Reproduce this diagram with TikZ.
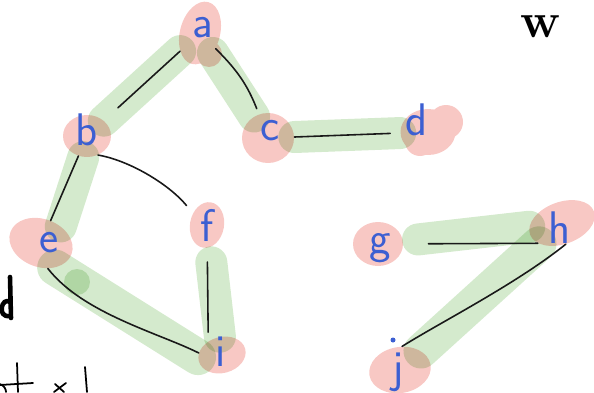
\documentclass[tikz,border=0pt]{standalone}
\usetikzlibrary{shapes.geometric}
\definecolor{blobpink}{HTML}{F8C8C4}
\definecolor{hlgreen}{HTML}{D4EACD}
\definecolor{penblue}{HTML}{3C5FD2}
\begin{document}
\begin{tikzpicture}[x=0.02cm, y=-0.02cm, line cap=round, line join=round,
	blob/.style 2 args={ellipse, fill=blobpink, draw=none, inner sep=0pt, minimum width=#1, minimum height=#2},
	hl/.style={draw=hlgreen, line width=0.64cm},
	pen/.style={draw=black!90, line width=0.9pt},
	lbl/.style={text=penblue, font=\fontsize{26}{26}\selectfont\sffamily, inner sep=0pt}]
	\useasboundingbox (0,0) rectangle (594,392);
	\clip (0,0) rectangle (594,392);
	% vertex blobs
	\node[blob={0.8cm}{1.28cm}, rotate=-15] (a) at (200,33) {};
	\fill[blobpink] (209,54) circle (0.26cm);
	\node[blob={0.96cm}{0.84cm}] (b) at (87,136) {};
	\node[blob={1.04cm}{1cm}] (c) at (268,138) {};
	\node[blob={1.1cm}{0.92cm}] (d) at (428,132) {};
	\fill[blobpink] (446,122) circle (0.34cm) (420,141) circle (0.3cm);
	\node[blob={1.3cm}{0.96cm}, rotate=-20] (e) at (41,243) {};
	\node[blob={0.68cm}{0.92cm}, rotate=-10] (f) at (207,225) {};
	\node[blob={1cm}{0.88cm}] (g) at (378,244) {};
	\node[blob={1.36cm}{0.84cm}, rotate=20] (h) at (562,223) {};
	\node[blob={0.96cm}{0.72cm}, rotate=15] (i) at (222,355) {};
	\node[blob={1.24cm}{0.92cm}, rotate=10] (j) at (400,370) {};
	% highlighter strokes
	\begin{scope}[blend mode=multiply]
		\draw[hl] (a) -- (b);
		\draw[hl] (a) -- (c);
		\draw[hl] (c) -- (d);
		\draw[hl] (b.-100) -- (e.60);
		\draw[hl, line width=0.72cm] (e.-40) -- (i.170);
		\fill[hlgreen] (77,282) circle (0.26cm);
		\draw[hl, shorten <=0.3cm] (f) -- (i);
		\draw[hl, shorten <=0.3cm] (g) -- (h);
		\draw[hl, line width=0.7cm] (h) -- (j);
	\end{scope}
	% pen edges
	\draw[pen, shorten >=0.38cm] (a) -- (b);
	\draw[pen, shorten >=0.12cm] (a) to[bend left=12] (c);
	\draw[pen, shorten >=0.2cm] (c) -- (d);
	\draw[pen] (b) -- (e);
	\draw[pen, shorten >=0.2cm] (b.-60) .. controls +(30,5) and +(-25,-30) .. (f.150);
	\draw[pen] (e.-55) .. controls +(35,45) and +(-40,-20) .. (i.160);
	\draw[pen, shorten <=0.28cm, shorten >=0.18cm] (f) -- (i.120);
	\draw[pen, shorten <=0.5cm] (g) -- (h.200);
	\draw[pen] (h.-100) .. controls +(-50,40) and +(40,-25) .. (j.75);
	\fill[penblue] (393,340) circle (0.05cm);
	% letters
	\node[lbl] (la) at (203,28) {a};
	\node[lbl] (lb) at (87,130) {b};
	\node[lbl] (lc) at (270,131) {c};
	\node[lbl] (ld) at (417,120) {d};
	\node[lbl] (le) at (49,243) {e};
	\node[lbl] (lf) at (207,225) {f};
	\node[lbl] (lg) at (380,248) {g};
	\node[lbl] (lh) at (560,228) {h};
	\node[lbl] (li) at (221,352) {i};
	\node[lbl] (lj) at (398,372) {j};
	\node[font=\fontsize{28}{28}\selectfont\bfseries, inner sep=0pt] (w) at (540,27) {w};
	% cut-off writing at the left edge
	\draw[line width=2.6pt] (10,277) -- (11,318);
	\draw[line width=2.6pt] (10,302) .. controls (2,296) and (-4,318) .. (10,316);
	\draw[line width=1pt] (17,363) -- (18,392) (0,385) -- (33,383);
	\draw[line width=1pt] (55,384) -- (64,392) (66,383) -- (54,392);
	\draw[line width=1pt] (85,367) -- (87,392);
	\draw[line width=1pt] (0,384) .. controls (5,386) and (6,390) .. (6,392);
\end{tikzpicture}
\end{document}
